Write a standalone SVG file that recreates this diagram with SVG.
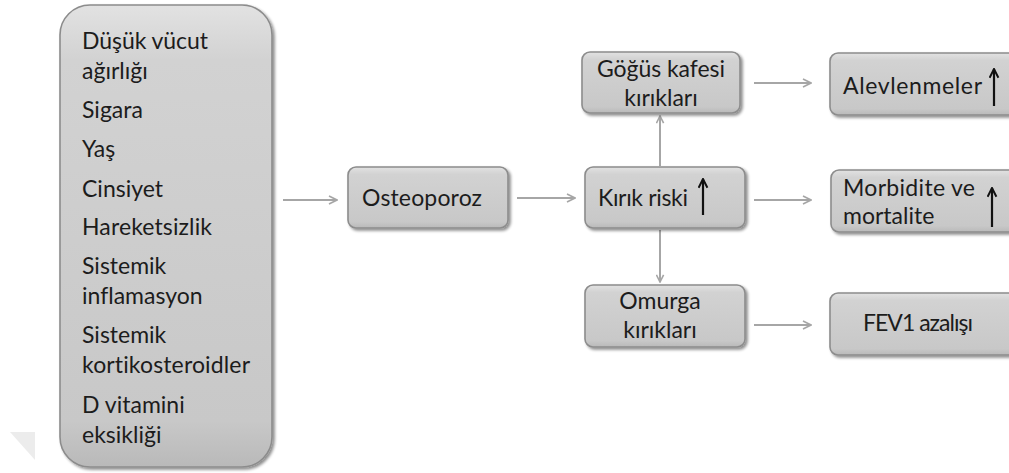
<svg xmlns="http://www.w3.org/2000/svg" width="1009" height="473" viewBox="0 0 1009 473">
  <defs>
    <linearGradient id="boxFill" x1="0" y1="0" x2="0" y2="1">
      <stop offset="0" stop-color="#e2e2e2"/>
      <stop offset="0.12" stop-color="#d2d2d2"/>
      <stop offset="0.9" stop-color="#c8c8c8"/>
      <stop offset="1" stop-color="#b9b9b9"/>
    </linearGradient>
    <filter id="shadow" x="-10%" y="-10%" width="125%" height="130%">
      <feGaussianBlur in="SourceAlpha" stdDeviation="1.6"/>
      <feOffset dx="1.5" dy="2" result="b"/>
      <feComponentTransfer><feFuncA type="linear" slope="0.45"/></feComponentTransfer>
      <feMerge><feMergeNode/><feMergeNode in="SourceGraphic"/></feMerge>
    </filter>
    <!-- open chevron heads; drawn pointing along +x so orient="auto" turns them -->
    <marker id="chev" viewBox="0 0 10 10" refX="9" refY="5" markerWidth="10" markerHeight="10" markerUnits="userSpaceOnUse" orient="auto">
      <path d="M1,1 L9,5 L1,9" fill="none" stroke="#a6a6a6" stroke-width="1.6"/>
    </marker>
    <marker id="chevS" viewBox="0 0 10 10" refX="9" refY="5" markerWidth="9" markerHeight="9" markerUnits="userSpaceOnUse" orient="auto">
      <path d="M1,1 L9,5 L1,9" fill="none" stroke="#a6a6a6" stroke-width="1.8"/>
    </marker>
    <marker id="up" viewBox="0 0 10 10" refX="9" refY="5" markerWidth="11" markerHeight="11" markerUnits="userSpaceOnUse" orient="auto">
      <path d="M1,1 L9,5 L1,9" fill="none" stroke="#111" stroke-width="1.8"/>
    </marker>
  </defs>
  <style>
    .box { fill: url(#boxFill); stroke: #8c8c8c; stroke-width: 1.6; filter: url(#shadow); }
    .t { font-family: Lato, "Open Sans", sans-serif; font-size: 23px; fill: #1c1c1c; font-variant-ligatures: none; }
    .c { text-anchor: middle; }
    .conn { stroke: #a6a6a6; stroke-width: 2; fill: none; }
    .rise { stroke: #111; stroke-width: 2.2; fill: none; }
  </style>

  <rect width="1009" height="473" fill="#ffffff"/>
  <polygon points="10,432 35,432 35,460" fill="#ececec"/>

  <g id="connectors">
    <line class="conn" x1="283" y1="200" x2="337" y2="200" marker-end="url(#chev)"/>
    <line class="conn" x1="517" y1="198" x2="575" y2="198" marker-end="url(#chev)"/>
    <line class="conn" x1="754" y1="200" x2="811" y2="200" marker-end="url(#chev)"/>
    <line class="conn" x1="754" y1="83" x2="811" y2="83" marker-end="url(#chev)"/>
    <line class="conn" x1="754" y1="325" x2="811" y2="325" marker-end="url(#chev)"/>
    <line class="conn" x1="660" y1="166" x2="660" y2="116" marker-end="url(#chevS)"/>
    <line class="conn" x1="660" y1="230" x2="660" y2="282" marker-end="url(#chevS)"/>
  </g>

  <g id="risk-factors">
    <rect class="box" x="60" y="5" width="212" height="462" rx="30"/>
    <text class="t" x="82" y="49" textLength="126">Düşük vücut</text>
    <text class="t" x="82" y="79">ağırlığı</text>
    <text class="t" x="82" y="118">Sigara</text>
    <text class="t" x="82" y="157">Yaş</text>
    <text class="t" x="82" y="197">Cinsiyet</text>
    <text class="t" x="82" y="235" textLength="130">Hareketsizlik</text>
    <text class="t" x="82" y="274">Sistemik</text>
    <text class="t" x="82" y="304">inflamasyon</text>
    <text class="t" x="82" y="343">Sistemik</text>
    <text class="t" x="82" y="373" textLength="168">kortikosteroidler</text>
    <text class="t" x="82" y="413">D vitamini</text>
    <text class="t" x="82" y="443">eksikliği</text>
  </g>

  <g id="osteoporoz">
    <rect class="box" x="348" y="167" width="160" height="61" rx="8"/>
    <text class="t" x="362" y="206" textLength="120">Osteoporoz</text>
  </g>

  <g id="kirik-riski">
    <rect class="box" x="585" y="167" width="160" height="61" rx="8"/>
    <text class="t" x="598" y="206" textLength="90">Kırık riski</text>
    <line class="rise" x1="703" y1="215" x2="703" y2="179" marker-end="url(#up)"/>
  </g>

  <g id="gogus-kafesi">
    <rect class="box" x="582" y="52" width="158" height="61" rx="8"/>
    <text class="t c" x="661" y="77" textLength="128">Göğüs kafesi</text>
    <text class="t c" x="661" y="106">kırıkları</text>
  </g>

  <g id="omurga">
    <rect class="box" x="585" y="285" width="160" height="62" rx="8"/>
    <text class="t c" x="660" y="309">Omurga</text>
    <text class="t c" x="660" y="338">kırıkları</text>
  </g>

  <g id="alevlenmeler">
    <rect class="box" x="830" y="53" width="190" height="62" rx="8"/>
    <text class="t" x="843" y="94" textLength="139">Alevlenmeler</text>
    <line class="rise" x1="994" y1="106" x2="994" y2="69" marker-end="url(#up)"/>
  </g>

  <g id="morbidite">
    <rect class="box" x="831" y="170" width="190" height="62" rx="8"/>
    <text class="t" x="843" y="196" textLength="132">Morbidite ve</text>
    <text class="t" x="843" y="224">mortalite</text>
    <line class="rise" x1="992" y1="227" x2="992" y2="188" marker-end="url(#up)"/>
  </g>

  <g id="fev1">
    <rect class="box" x="830" y="293" width="190" height="62" rx="8"/>
    <text class="t c" x="918" y="331" textLength="110">FEV1 azalışı</text>
  </g>
</svg>
